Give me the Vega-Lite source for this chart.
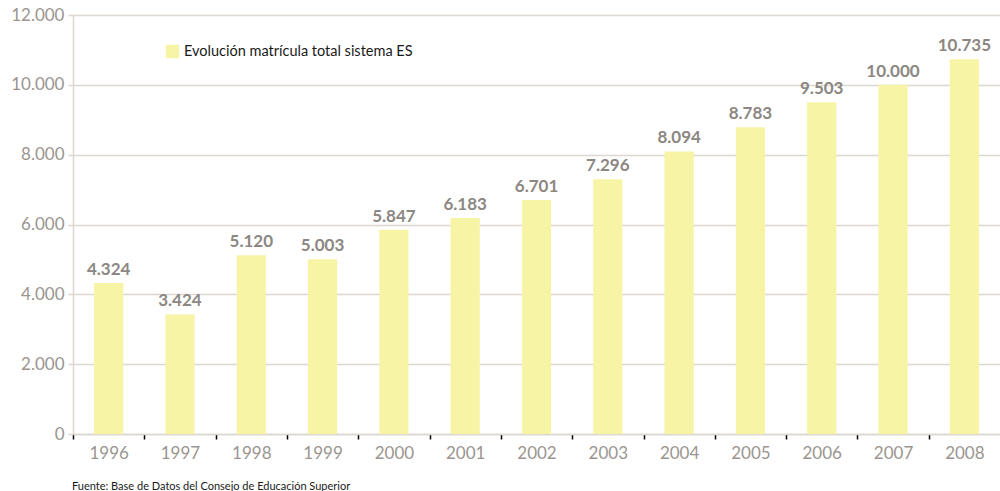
{
  "$schema": "https://vega.github.io/schema/vega-lite/v6.json",
  "autosize": "none",
  "width": 927,
  "height": 419,
  "padding": {"left": 73, "top": 15, "right": 0, "bottom": 57},
  "background": "white",
  "config": {
    "locale": {"number": {"decimal": ",", "thousands": ".", "grouping": [3], "currency": ["", "€"]}},
    "font": "Lato",
    "view": {"stroke": null}
  },
  "title": {
    "text": "Fuente: Base de Datos del Consejo de Educación Superior",
    "orient": "bottom",
    "anchor": "start",
    "frame": "group",
    "fontSize": 11,
    "fontWeight": "normal",
    "color": "#1a1a1a",
    "offset": 20,
    "dx": -1
  },
  "data": {
    "values": [
      {"year": "1996", "value": 4324, "serie": "Evolución matrícula total sistema ES"},
      {"year": "1997", "value": 3424, "serie": "Evolución matrícula total sistema ES"},
      {"year": "1998", "value": 5120, "serie": "Evolución matrícula total sistema ES"},
      {"year": "1999", "value": 5003, "serie": "Evolución matrícula total sistema ES"},
      {"year": "2000", "value": 5847, "serie": "Evolución matrícula total sistema ES"},
      {"year": "2001", "value": 6183, "serie": "Evolución matrícula total sistema ES"},
      {"year": "2002", "value": 6701, "serie": "Evolución matrícula total sistema ES"},
      {"year": "2003", "value": 7296, "serie": "Evolución matrícula total sistema ES"},
      {"year": "2004", "value": 8094, "serie": "Evolución matrícula total sistema ES"},
      {"year": "2005", "value": 8783, "serie": "Evolución matrícula total sistema ES"},
      {"year": "2006", "value": 9503, "serie": "Evolución matrícula total sistema ES"},
      {"year": "2007", "value": 10000, "serie": "Evolución matrícula total sistema ES"},
      {"year": "2008", "value": 10735, "serie": "Evolución matrícula total sistema ES"}
    ]
  },
  "encoding": {
    "x": {
      "field": "year",
      "type": "nominal",
      "scale": {"paddingInner": 0.59, "paddingOuter": 0.295},
      "axis": {
        "title": null,
        "labelAngle": 0,
        "labelFontSize": 17,
        "labelColor": "#9a958f",
        "labelPadding": 6,
        "domainColor": "#dcd7d0",
        "domainWidth": 1.5,
        "tickColor": "#000000",
        "tickSize": 5,
        "tickWidth": 1.5,
        "tickOffset": -35.6,
        "labelOffset": 35.6
      }
    },
    "y": {
      "field": "value",
      "type": "quantitative",
      "scale": {"domain": [0, 12000]},
      "axis": {
        "title": null,
        "values": [0, 2000, 4000, 6000, 8000, 10000, 12000],
        "format": ",d",
        "labelFontSize": 17,
        "labelColor": "#9a958f",
        "labelPadding": 4,
        "grid": true,
        "gridColor": "#dcd7d0",
        "gridWidth": 1.5,
        "domainColor": "#dcd7d0",
        "domainWidth": 1.5,
        "tickColor": "#dcd7d0",
        "tickSize": 5,
        "tickWidth": 1.5
      }
    }
  },
  "layer": [
    {
      "mark": {"type": "bar", "color": "#f8f4a6"},
      "encoding": {
        "color": {
          "field": "serie",
          "type": "nominal",
          "scale": {"range": ["#f8f4a6"]},
          "legend": {
            "title": null,
            "orient": "none",
            "legendX": 92,
            "legendY": 29,
            "symbolType": "square",
            "symbolSize": 180,
            "labelFontSize": 14.5,
            "labelLimit": 0,
            "labelColor": "#1a1a1a",
            "labelOffset": 4
          }
        }
      }
    },
    {
      "mark": {"type": "text", "dy": -13, "fontSize": 17, "fontWeight": "bold", "color": "#8c8782"},
      "encoding": {
        "text": {"field": "value", "type": "quantitative", "format": ",d"}
      }
    }
  ]
}
